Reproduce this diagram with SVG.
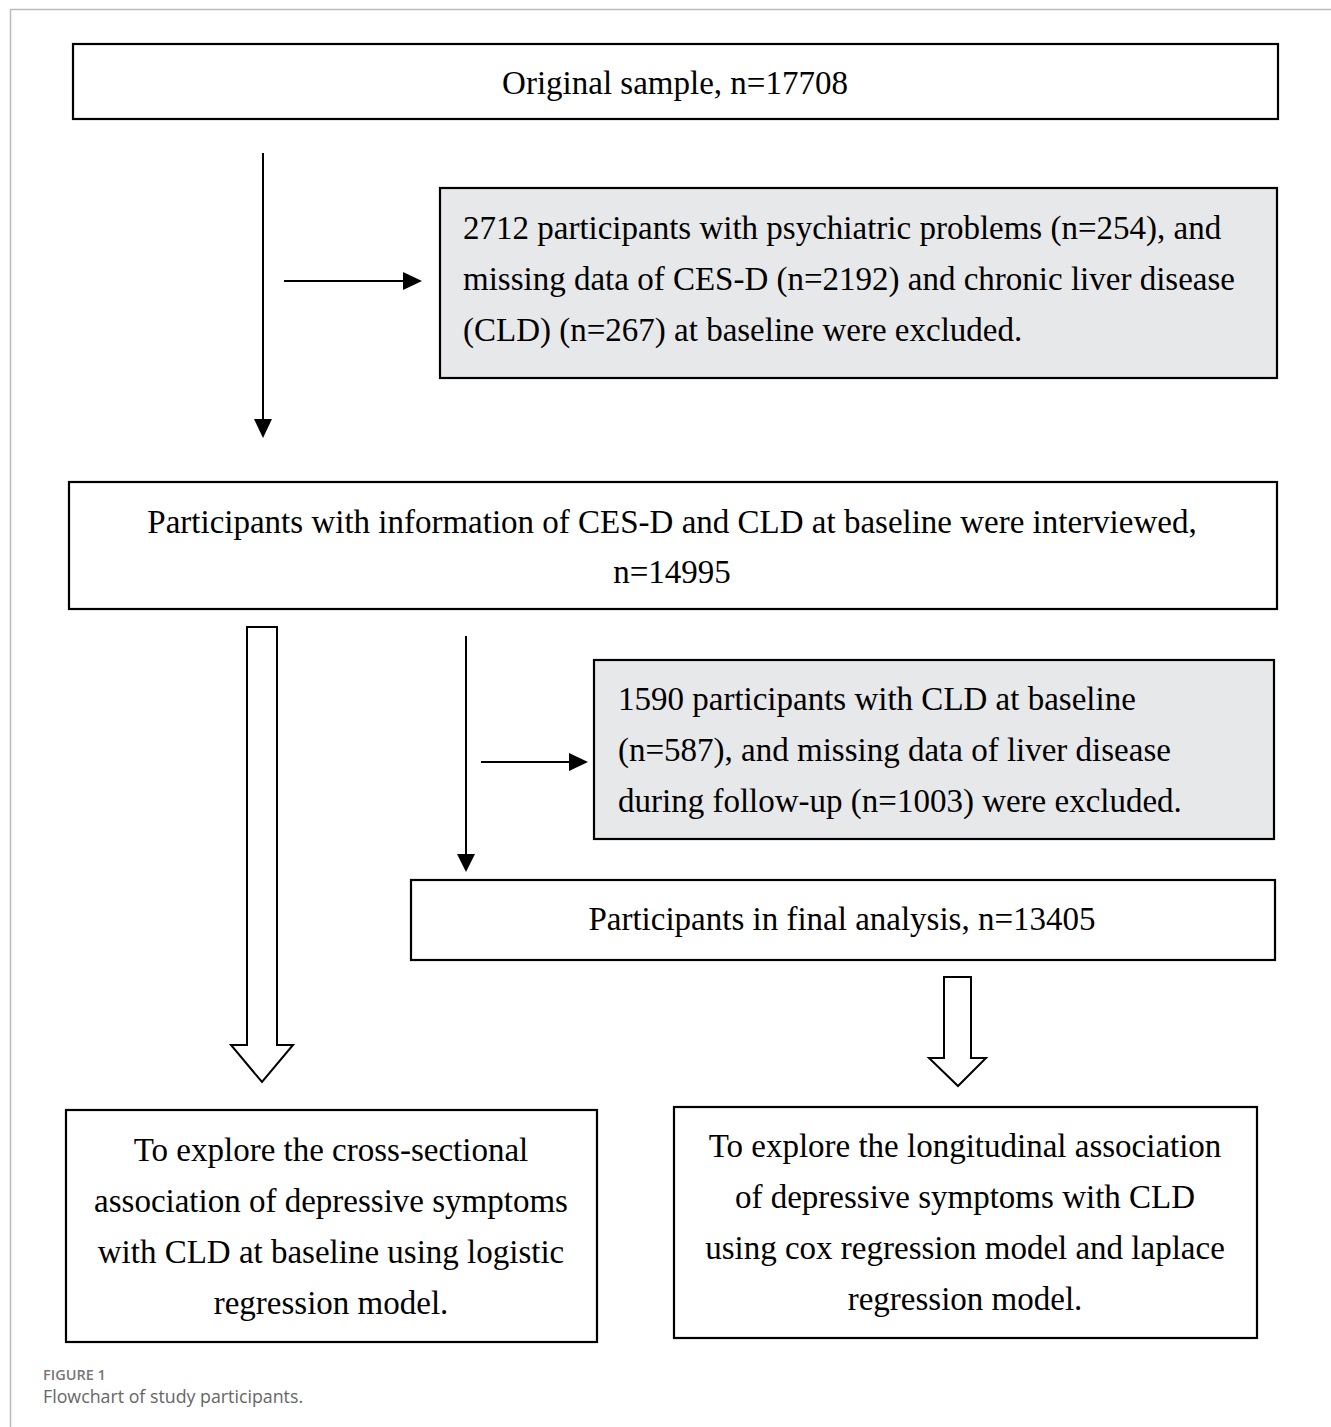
<svg xmlns="http://www.w3.org/2000/svg" width="1331" height="1427" viewBox="0 0 1331 1427">
<style>
.box{fill:#fff;stroke:#000;stroke-width:2.2}
.gray{fill:#e7e8ea;stroke:#000;stroke-width:2.2}
.t{font-family:"Liberation Serif","Times New Roman",serif;font-size:33px;fill:#000}
.c{text-anchor:middle}
.ln{stroke:#000;stroke-width:2;fill:none}
.hollow{fill:#fff;stroke:#000;stroke-width:2}
.cap1{font-family:"Open Sans","Noto Sans",sans-serif;font-size:14.5px;font-weight:600;fill:#777}
.cap2{font-family:"Open Sans","Noto Sans",sans-serif;font-size:17.8px;fill:#666}
</style>
<rect width="1331" height="1427" fill="#fff"/>
<path d="M10.5,1427 V9.5 H1331" fill="none" stroke="#bbb" stroke-width="1.5"/>

<g id="connectors">
<line class="ln" x1="263" y1="153" x2="263" y2="421"/>
<path d="M254,419 L272,419 L263,438 z" fill="#000"/>
<line class="ln" x1="284" y1="281" x2="405" y2="281"/>
<path d="M403,272 L422,281 L403,290 z" fill="#000"/>
<line class="ln" x1="466" y1="636" x2="466" y2="856"/>
<path d="M457,854 L475,854 L466,872 z" fill="#000"/>
<line class="ln" x1="481" y1="762" x2="571" y2="762"/>
<path d="M569,753 L588,762 L569,771 z" fill="#000"/>
<path class="hollow" d="M247,627 H277 V1045 H293 L262,1082 L231,1045 H247 Z"/>
<path class="hollow" d="M944,977 H971 V1058 H986 L958,1086 L929,1058 H944 Z"/>
</g>

<g id="n1">
<rect class="box" x="73" y="44" width="1205" height="75"/>
<text class="t c" x="675" y="94">Original sample, n=17708</text>
</g>

<g id="n2">
<rect class="gray" x="440" y="188" width="837" height="190"/>
<text class="t" x="463" y="239">2712 participants with psychiatric problems (n=254), and</text>
<text class="t" x="463" y="290">missing data of CES-D (n=2192) and chronic liver disease</text>
<text class="t" x="463" y="341">(CLD) (n=267) at baseline were excluded.</text>
</g>

<g id="n3">
<rect class="box" x="69" y="482" width="1208" height="127"/>
<text class="t c" x="672" y="533">Participants with information of CES-D and CLD at baseline were interviewed,</text>
<text class="t c" x="672" y="583">n=14995</text>
</g>

<g id="n4">
<rect class="gray" x="594" y="660" width="680" height="179"/>
<text class="t" x="618" y="710">1590 participants with CLD at baseline</text>
<text class="t" x="618" y="761">(n=587), and missing data of liver disease</text>
<text class="t" x="618" y="812">during follow-up (n=1003) were excluded.</text>
</g>

<g id="n5">
<rect class="box" x="411" y="880" width="864" height="80"/>
<text class="t c" x="842" y="930">Participants in final analysis, n=13405</text>
</g>

<g id="n6">
<rect class="box" x="66" y="1110" width="531" height="232"/>
<text class="t c" x="331" y="1161">To explore the cross-sectional</text>
<text class="t c" x="331" y="1212">association of depressive symptoms</text>
<text class="t c" x="331" y="1263">with CLD at baseline using logistic</text>
<text class="t c" x="331" y="1314">regression model.</text>
</g>

<g id="n7">
<rect class="box" x="674" y="1107" width="583" height="231"/>
<text class="t c" x="965" y="1157">To explore the longitudinal association</text>
<text class="t c" x="965" y="1208">of depressive symptoms with CLD</text>
<text class="t c" x="965" y="1259">using cox regression model and laplace</text>
<text class="t c" x="965" y="1310">regression model.</text>
</g>

<text class="cap1" x="43" y="1380">FIGURE 1</text>
<text class="cap2" x="43" y="1403">Flowchart of study participants.</text>
</svg>
